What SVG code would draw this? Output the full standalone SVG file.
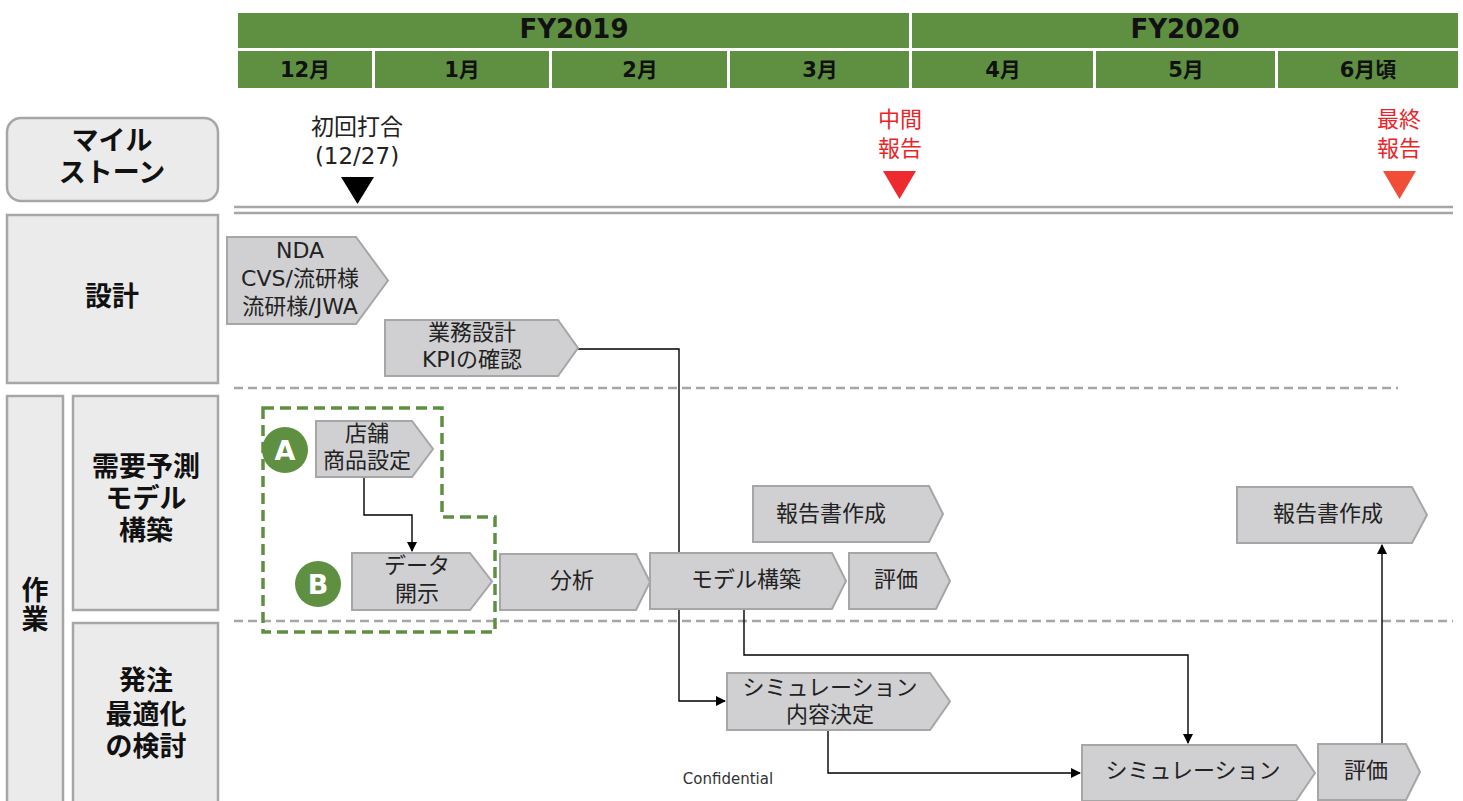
<svg xmlns="http://www.w3.org/2000/svg" width="1463" height="801" viewBox="0 0 1463 801">
<defs>
<style>
text{font-family:"DejaVu Sans","Noto Sans CJK JP",sans-serif;text-anchor:middle;}
.hdr{fill:#5F9042;}
.hdrt{font-size:26px;font-weight:bold;fill:#111;}
.mont{font-size:21px;font-weight:bold;fill:#111;}
.lbl{fill:#EBEBEB;stroke:#A6A6A6;stroke-width:2.5;}
.lblt{font-size:27px;font-weight:bold;fill:#111;}
.chev{fill:#D0D0D2;stroke:#A6A6A6;stroke-width:2;}
.ct{font-size:22px;fill:#222;}
.ms{font-size:23px;fill:#222;}
.red{font-size:22px;fill:#E8262A;}
.conn{fill:none;stroke:#000;stroke-width:1.4;}
.dash{stroke:#A6A6A6;stroke-width:2.5;stroke-dasharray:9,5;}
.circ{fill:#5F9042;}
.ct2{font-size:27px;font-weight:bold;fill:#fff;}
</style>
<marker id="arr" viewBox="0 0 10 10" refX="9" refY="5" markerWidth="10" markerHeight="10" markerUnits="userSpaceOnUse" orient="auto">
<path d="M0,0 L10,5 L0,10 Z" fill="#000"/>
</marker>
</defs>
<rect width="1463" height="801" fill="#fff"/>

<g id="header">
<rect class="hdr" x="238" y="13" width="671" height="35"/>
<rect class="hdr" x="912" y="13" width="546" height="35"/>
<text class="hdrt" x="574" y="38">FY2019</text>
<text class="hdrt" x="1185" y="38">FY2020</text>
<rect class="hdr" x="238" y="51" width="134" height="37"/>
<rect class="hdr" x="375" y="51" width="174" height="37"/>
<rect class="hdr" x="552" y="51" width="175" height="37"/>
<rect class="hdr" x="730" y="51" width="179" height="37"/>
<rect class="hdr" x="912" y="51" width="181" height="37"/>
<rect class="hdr" x="1096" y="51" width="179" height="37"/>
<rect class="hdr" x="1278" y="51" width="180" height="37"/>
<text class="mont" x="305" y="77">12月</text>
<text class="mont" x="462" y="77">1月</text>
<text class="mont" x="640" y="77">2月</text>
<text class="mont" x="820" y="77">3月</text>
<text class="mont" x="1003" y="77">4月</text>
<text class="mont" x="1186" y="77">5月</text>
<text class="mont" x="1368" y="77">6月頃</text>
</g>

<g id="lane-milestone">
<rect class="lbl" x="7" y="118" width="211" height="83" rx="14"/>
<text class="lblt" x="112" y="150">マイル</text>
<text class="lblt" x="112" y="182">ストーン</text>
</g>
<g id="lane-design">
<rect class="lbl" x="7" y="215" width="211" height="168"/>
<text class="lblt" x="112" y="306">設計</text>
</g>
<g id="lane-work">
<rect class="lbl" x="7" y="396" width="56" height="410"/>
<text class="lblt" x="35" y="600">作</text>
<text class="lblt" x="35" y="629">業</text>
</g>
<g id="lane-demand">
<rect class="lbl" x="73" y="396" width="145" height="214"/>
<text class="lblt" x="146" y="476">需要予測</text>
<text class="lblt" x="146" y="508">モデル</text>
<text class="lblt" x="146" y="540">構築</text>
</g>
<g id="lane-order">
<rect class="lbl" x="73" y="623" width="145" height="183"/>
<text class="lblt" x="146" y="690">発注</text>
<text class="lblt" x="146" y="724">最適化</text>
<text class="lblt" x="146" y="756">の検討</text>
</g>

<g id="milestones">
<line x1="234" y1="207" x2="1453" y2="207" stroke="#A6A6A6" stroke-width="2.5"/>
<line x1="234" y1="213" x2="1453" y2="213" stroke="#A6A6A6" stroke-width="2.5"/>
<text class="ms" x="357" y="135">初回打合</text>
<text class="ms" x="357" y="164">(12/27)</text>
<path d="M341,177 L374,177 L357.5,204 Z" fill="#000"/>
<text class="red" x="900" y="127">中間</text>
<text class="red" x="900" y="156">報告</text>
<path d="M883,171 L916,171 L899.5,199 Z" fill="#EE2A2E"/>
<text class="red" x="1399" y="127">最終</text>
<text class="red" x="1399" y="156">報告</text>
<path d="M1383,171 L1416,171 L1399.5,199 Z" fill="#F04E37"/>
</g>

<g id="separators">
<line class="dash" x1="234" y1="388" x2="1398" y2="388"/>
<line class="dash" x1="234" y1="621" x2="1453" y2="621"/>
</g>

<g id="group-AB">
<path d="M263,408 H442 V517 H495 V632 H263 Z" fill="none" stroke="#5F9042" stroke-width="3.5" stroke-dasharray="11,6"/>
</g>

<g id="connectors">
<path class="conn" d="M578,349 H679 V701 H725" marker-end="url(#arr)"/>
<path class="conn" d="M364,477 V515 H412 V551" marker-end="url(#arr)"/>
<path class="conn" d="M744,609 V655 H1188 V743" marker-end="url(#arr)"/>
<path class="conn" d="M828,730 V773 H1080" marker-end="url(#arr)"/>
<path class="conn" d="M1382,744 V545" marker-end="url(#arr)" stroke="#333"/>
</g>

<g id="n-nda">
<path class="chev" d="M227,237 H356 L388,280.5 L356,324 H227 Z"/>
<text class="ct" x="300" y="258">NDA</text>
<text class="ct" x="300" y="286">CVS/流研様</text>
<text class="ct" x="300" y="314">流研様/JWA</text>
</g>
<g id="n-gyomu">
<path class="chev" d="M385,320 H558 L578,348 L558,376 H385 Z"/>
<text class="ct" x="472" y="340">業務設計</text>
<text class="ct" x="472" y="367">KPIの確認</text>
</g>
<g id="n-tenpo">
<path class="chev" d="M316,421 H412 L433,449 L412,477 H316 Z"/>
<circle class="circ" cx="285" cy="450" r="23"/>
<text class="ct2" x="285" y="460">A</text>
<text class="ct" x="367" y="441">店舗</text>
<text class="ct" x="367" y="468">商品設定</text>
</g>
<g id="n-data">
<path class="chev" d="M352,553 H470 L492,581.5 L470,610 H352 Z"/>
<circle class="circ" cx="318" cy="584" r="23"/>
<text class="ct2" x="318" y="594">B</text>
<text class="ct" x="417" y="573">データ</text>
<text class="ct" x="417" y="601">開示</text>
</g>
<g id="n-bunseki">
<path class="chev" d="M500,554 H636 L650,582 L636,610 H500 Z"/>
<text class="ct" x="572" y="588">分析</text>
</g>
<g id="n-model">
<path class="chev" d="M650,553 H832 L846,581 L832,609 H650 Z"/>
<text class="ct" x="746" y="587">モデル構築</text>
</g>
<g id="n-hyoka1">
<path class="chev" d="M849,553 H936 L950,581 L936,609 H849 Z"/>
<text class="ct" x="896" y="587">評価</text>
</g>
<g id="n-report1">
<path class="chev" d="M753,486 H929 L943,514 L929,542 H753 Z"/>
<text class="ct" x="831" y="521">報告書作成</text>
</g>
<g id="n-simdecide">
<path class="chev" d="M727,673 H930 L950,701.5 L930,730 H727 Z"/>
<text class="ct" x="830" y="695">シミュレーション</text>
<text class="ct" x="830" y="722">内容決定</text>
</g>
<g id="n-sim">
<path class="chev" d="M1082,745 H1296 L1315,773 L1296,801 H1082 Z"/>
<text class="ct" x="1193" y="778">シミュレーション</text>
</g>
<g id="n-hyoka2">
<path class="chev" d="M1318,744 H1406 L1420,772 L1406,800 H1318 Z"/>
<text class="ct" x="1366" y="778">評価</text>
</g>
<g id="n-report2">
<path class="chev" d="M1237,487 H1412 L1427,515 L1412,543 H1237 Z"/>
<text class="ct" x="1328" y="521">報告書作成</text>
</g>

<text x="728" y="784" style="font-size:15px;fill:#333;">Confidential</text>
</svg>
